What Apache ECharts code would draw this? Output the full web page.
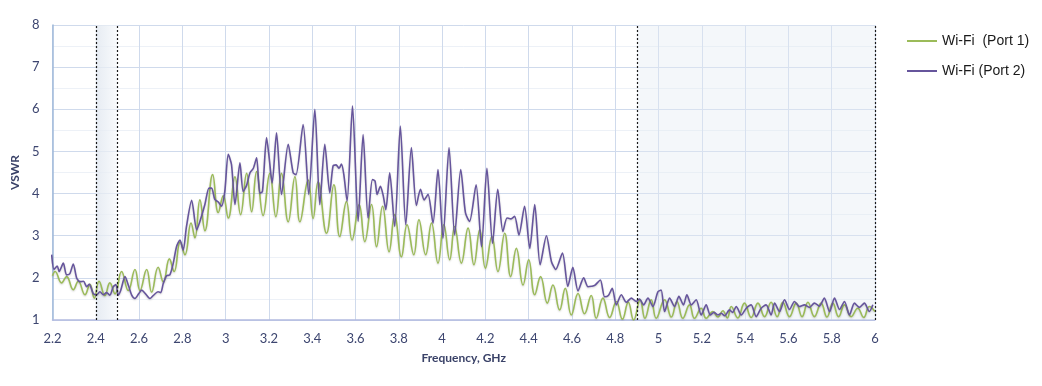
<!DOCTYPE html>
<html>
<head>
<meta charset="utf-8">
<script src="https://cdn.jsdelivr.net/npm/echarts@6/dist/echarts.min.js"></script>
<style>
html,body{margin:0;padding:0;background:#fff;}
#chart{width:1042px;height:386px;}
</style>
</head>
<body>
<div id="chart"></div>
<script>
// ---- Data ----
const seriesNames = ['Wi-Fi  (Port 1)', 'Wi-Fi (Port 2)'];
const xTicks = [2.2,2.4,2.6,2.8,3,3.2,3.4,3.6,3.8,4,4.2,4.4,4.6,4.8,5,5.2,5.4,5.6,5.8,6];
const yTicks = [1,2,3,4,5,6,7,8];
const bandLow = [2.4, 2.5];
const bandHigh = [4.9, 6.0];

// Port 1 (green)
const freqG = [2.200,2.212,2.242,2.265,2.296,2.319,2.350,2.373,2.393,2.415,2.442,2.465,2.489,2.519,2.550,2.581,2.604,2.635,2.658,2.688,2.712,2.740,2.762,2.790,2.812,2.840,2.858,2.881,2.904,2.940,2.966,2.989,3.012,3.043,3.069,3.097,3.120,3.143,3.173,3.204,3.232,3.258,3.289,3.320,3.343,3.381,3.404,3.427,3.466,3.500,3.527,3.558,3.584,3.617,3.643,3.674,3.697,3.725,3.755,3.781,3.812,3.838,3.869,3.893,3.924,3.951,3.981,4.008,4.035,4.058,4.089,4.120,4.147,4.174,4.200,4.230,4.258,4.289,4.317,4.343,4.374,4.400,4.428,4.455,4.486,4.512,4.543,4.569,4.597,4.628,4.658,4.689,4.712,4.743,4.774,4.805,4.833,4.860,4.885,4.915,4.937,4.966,4.989,5.028,5.059,5.085,5.112,5.143,5.166,5.197,5.220,5.251,5.274,5.297,5.318,5.336,5.366,5.397,5.428,5.459,5.490,5.520,5.548,5.574,5.605,5.636,5.663,5.690,5.720,5.751,5.778,5.805,5.832,5.859,5.890,5.920,5.948,5.974,6.000];
const vswrG = [2.05,2.15,1.88,2.03,1.72,1.92,1.60,1.85,1.52,1.92,1.58,1.88,1.62,2.15,1.70,2.20,1.70,2.20,1.66,2.25,1.90,2.45,2.15,2.85,2.55,3.30,2.95,3.85,3.12,4.45,3.55,3.95,3.42,4.40,3.50,4.48,3.57,4.52,3.48,4.48,3.45,4.48,3.33,4.40,3.33,4.32,3.41,4.28,3.06,4.21,2.98,3.81,2.90,3.74,2.86,3.74,2.74,3.70,2.62,3.50,2.50,3.26,2.55,3.38,2.55,3.30,2.35,3.26,2.43,3.22,2.35,3.18,2.31,3.14,2.23,2.98,2.15,3.06,2.03,2.70,1.83,2.43,1.60,2.03,1.40,1.83,1.24,1.75,1.12,1.63,1.15,1.58,1.04,1.52,1.06,1.44,1.02,1.42,1.00,1.48,1.04,1.48,1.04,1.48,1.07,1.44,1.04,1.36,1.04,1.28,1.04,1.20,1.07,1.22,1.05,1.32,1.05,1.40,1.06,1.40,1.08,1.42,1.08,1.42,1.08,1.40,1.08,1.42,1.08,1.40,1.07,1.40,1.08,1.36,1.08,1.28,1.06,1.32,1.20];

// Port 2 (purple)
const freqP = [2.196,2.207,2.222,2.231,2.250,2.265,2.280,2.296,2.312,2.327,2.343,2.358,2.370,2.388,2.404,2.419,2.435,2.450,2.465,2.481,2.493,2.504,2.515,2.535,2.552,2.566,2.581,2.598,2.612,2.630,2.650,2.665,2.688,2.700,2.712,2.727,2.742,2.758,2.773,2.789,2.804,2.819,2.843,2.866,2.881,2.904,2.923,2.935,2.950,2.966,2.981,2.996,3.012,3.027,3.043,3.066,3.081,3.097,3.112,3.128,3.143,3.158,3.170,3.189,3.200,3.215,3.235,3.258,3.289,3.312,3.325,3.358,3.384,3.412,3.435,3.458,3.481,3.496,3.510,3.524,3.535,3.546,3.561,3.586,3.612,3.635,3.658,3.678,3.690,3.700,3.715,3.728,3.740,3.758,3.781,3.807,3.832,3.858,3.881,3.900,3.917,3.935,3.958,3.981,4.004,4.032,4.058,4.086,4.108,4.127,4.157,4.182,4.207,4.233,4.257,4.281,4.300,4.318,4.335,4.355,4.381,4.405,4.428,4.453,4.482,4.505,4.525,4.556,4.581,4.604,4.628,4.654,4.674,4.690,4.705,4.731,4.751,4.768,4.786,4.805,4.828,4.851,4.874,4.897,4.912,4.931,4.951,4.974,4.997,5.012,5.028,5.051,5.074,5.094,5.115,5.131,5.151,5.174,5.197,5.220,5.239,5.256,5.274,5.290,5.305,5.328,5.342,5.359,5.382,5.405,5.428,5.451,5.474,5.497,5.520,5.536,5.559,5.582,5.605,5.628,5.651,5.674,5.697,5.720,5.743,5.766,5.790,5.813,5.836,5.859,5.882,5.905,5.928,5.951,5.974,5.990];
const vswrP = [2.55,2.20,2.28,2.15,2.35,2.07,2.10,2.33,1.99,1.91,1.92,1.79,1.85,1.63,1.60,1.67,1.60,1.65,1.59,1.79,1.84,1.59,1.70,2.03,1.80,1.59,1.51,1.62,1.71,1.62,1.51,1.58,1.67,1.65,1.87,2.05,2.07,2.35,2.74,2.90,2.66,3.22,3.84,3.14,3.34,3.74,4.13,4.13,3.86,3.80,3.70,4.05,4.93,4.69,3.74,4.73,4.05,4.20,4.49,4.60,4.85,4.01,4.05,5.33,4.90,4.25,5.44,3.98,5.17,4.49,4.45,5.64,3.98,6.00,3.74,5.17,4.02,4.65,4.68,4.60,4.70,4.45,3.82,6.08,3.34,5.40,3.42,4.33,4.30,3.98,4.17,3.95,3.62,4.49,3.22,5.60,3.26,5.09,3.72,4.10,3.85,3.98,3.30,4.57,2.94,5.09,3.02,4.57,3.54,3.34,4.21,2.74,4.60,2.82,4.10,3.10,3.42,3.40,3.46,3.02,3.70,2.70,3.74,2.31,3.00,2.39,2.20,2.59,1.80,2.25,1.69,2.00,1.79,1.80,1.82,1.95,1.55,1.58,1.75,1.36,1.60,1.42,1.52,1.44,1.50,1.36,1.52,1.32,1.67,1.71,1.20,1.52,1.32,1.56,1.36,1.60,1.36,1.48,1.12,1.36,1.12,1.18,1.12,1.16,1.10,1.24,1.18,1.32,1.12,1.28,1.36,1.08,1.28,1.36,1.12,1.40,1.20,1.48,1.25,1.44,1.32,1.36,1.30,1.40,1.33,1.52,1.20,1.52,1.25,1.44,1.12,1.40,1.30,1.40,1.20,1.36];

// ---- Build chart ----
const zip = (xs, ys) => xs.map((x, i) => [x, ys[i]]);
const chart = echarts.init(document.getElementById('chart'), null, {renderer: 'canvas'});

const labelColor = '#3d4670';
const option = {
  animation: false,
  backgroundColor: '#ffffff',
  grid: {left: 52.5, right: 167, top: 25, bottom: 66, containLabel: false},
  legend: {
    orient: 'vertical',
    left: 907,
    top: 34,
    padding: 0,
    icon: 'rect',
    itemWidth: 30,
    itemHeight: 2,
    itemGap: 16,
    textStyle: {fontFamily: 'Liberation Sans, Arial, sans-serif', fontSize: 14, color: '#1a1a1a'},
    data: seriesNames
  },
  xAxis: {
    type: 'value',
    min: xTicks[0],
    max: xTicks[xTicks.length - 1],
    interval: 0.2,
    name: 'Frequency, GHz',
    nameLocation: 'middle',
    nameGap: 32,
    nameTextStyle: {fontFamily: 'Lato', fontWeight: 'bold', fontSize: 12, color: '#3a4268'},
    axisLine: {show: true, lineStyle: {color: '#b3bbe0', width: 1.5}},
    axisTick: {show: false},
    axisLabel: {
      margin: 12, fontFamily: 'Lato', fontSize: 13, color: labelColor,
      formatter: v => String(parseFloat(v.toFixed(1)))
    },
    splitLine: {show: true, lineStyle: {color: '#cfdaec', width: 1}}
  },
  yAxis: {
    type: 'value',
    min: yTicks[0],
    max: yTicks[yTicks.length - 1],
    interval: 1,
    name: 'VSWR',
    nameLocation: 'middle',
    nameGap: 28,
    nameRotate: 90,
    nameTextStyle: {fontFamily: 'Lato', fontWeight: 'bold', fontSize: 12, color: '#3a4268'},
    axisLine: {show: true, lineStyle: {color: '#9fb9da', width: 1.5}},
    axisTick: {show: false},
    axisLabel: {margin: 13, fontFamily: 'Lato', fontSize: 13, color: labelColor},
    splitLine: {show: true, lineStyle: {color: '#cfdaec', width: 1}},
    minorTick: {show: false, splitNumber: 2},
    minorSplitLine: {show: true, lineStyle: {color: '#edf1f7', width: 1}}
  },
  series: [
    {
      name: seriesNames[0],
      type: 'line',
      data: zip(freqG, vswrG),
      showSymbol: false,
      symbol: 'none',
      smooth: 0.45,
      z: 3,
      lineStyle: {color: '#9bbb59', width: 1.6, shadowColor: 'rgba(0,0,0,0.18)', shadowBlur: 2, shadowOffsetY: 1},
      itemStyle: {color: '#9bbb59'},
      markArea: {
        silent: true,
        data: [
          [{xAxis: bandLow[0], itemStyle: {color: {type: 'linear', x: 0, y: 0, x2: 1, y2: 0, colorStops: [
            {offset: 0, color: 'rgba(226,232,240,0.85)'}, {offset: 0.5, color: 'rgba(234,239,245,0.75)'}, {offset: 1, color: 'rgba(245,247,250,0.6)'}]}}},
           {xAxis: bandLow[1]}],
          [{xAxis: bandHigh[0], itemStyle: {color: 'rgba(228,235,244,0.42)'}}, {xAxis: bandHigh[1]}]
        ]
      },
      markLine: {
        silent: true,
        symbol: 'none',
        label: {show: false},
        lineStyle: {color: '#1a1a1a', type: [2, 2], width: 1.2},
        data: [{xAxis: bandLow[0]}, {xAxis: bandLow[1]}, {xAxis: bandHigh[0]}, {xAxis: bandHigh[1]}]
      }
    },
    {
      name: seriesNames[1],
      type: 'line',
      data: zip(freqP, vswrP),
      showSymbol: false,
      symbol: 'none',
      smooth: 0.25,
      z: 4,
      lineStyle: {color: '#66559c', width: 1.6, shadowColor: 'rgba(0,0,0,0.18)', shadowBlur: 2, shadowOffsetY: 1},
      itemStyle: {color: '#66559c'}
    }
  ]
};
chart.setOption(option);
</script>
</body>
</html>
